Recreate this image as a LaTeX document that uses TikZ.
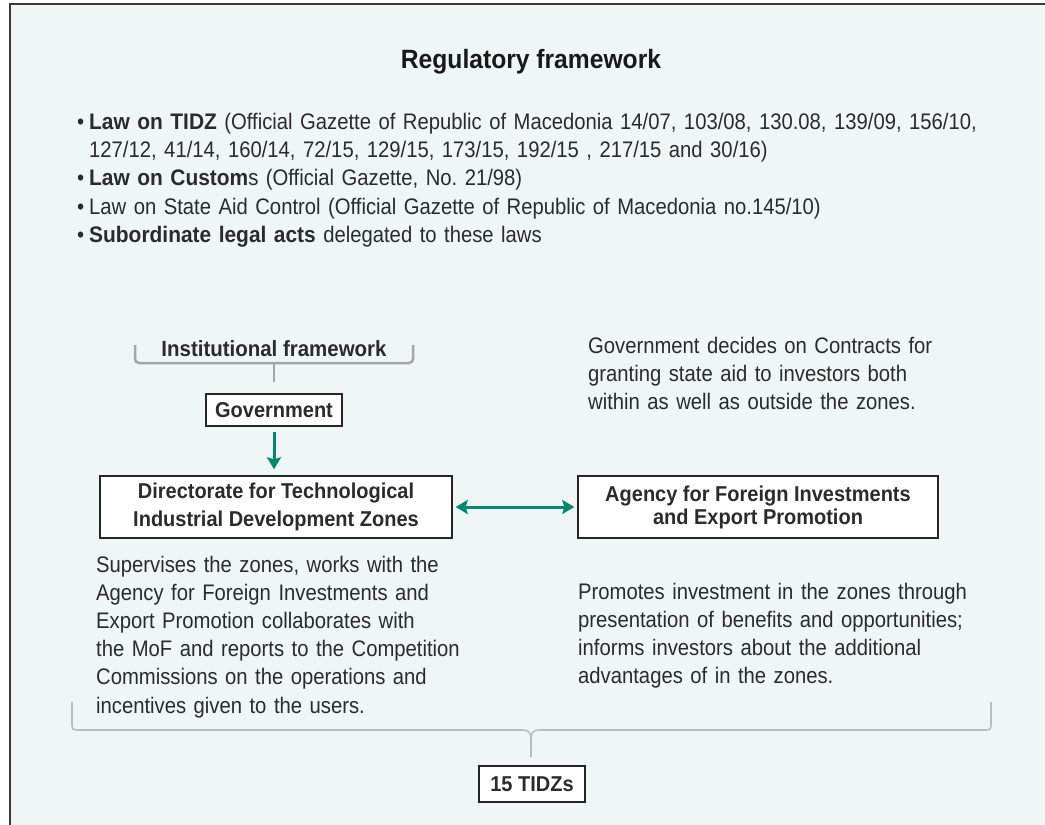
\documentclass[tikz,border=0pt]{standalone}
\usepackage{fontspec}
\setmainfont[FakeStretch=0.9, BoldFeatures={FakeStretch=0.93}]{Liberation Sans}
\usepackage{xcolor}
\usetikzlibrary{arrows.meta, positioning}

\definecolor{panelbg}{HTML}{F0F6F6}
\definecolor{frameline}{HTML}{3A3A3A}
\definecolor{arrowteal}{HTML}{00896F}
\definecolor{bracegray}{HTML}{A6A6A6}
\definecolor{lightbrace}{HTML}{BDBDBD}
\definecolor{textgray}{HTML}{2B2B2B}

\begin{document}
\frenchspacing
\begin{tikzpicture}[x=1pt, y=-1pt,
    orgbox/.style={draw=black!85, line width=1.4pt, fill=white, align=center,
        font=\fontsize{21.5}{28}\selectfont\bfseries, text=textgray, inner sep=0pt},
    bodytext/.style={anchor=base west, align=left, inner sep=0pt, text=textgray,
        text width=#1, font=\fontsize{22.5}{28.2}\selectfont},
    linkarrow/.style={draw=arrowteal, line width=3pt},
    >={Stealth[length=12pt, width=14pt, inset=2pt]}
]
\useasboundingbox (0,0) rectangle (1045,825);

% --- panel ---
\fill[panelbg] (10,4) rectangle (1045,825);
\draw[frameline, line width=2.4pt] (10,825) -- (10,4) -- (1045,4);

% --- Regulatory framework ---
\node[anchor=base, inner sep=0pt, font=\fontsize{26.5}{30}\selectfont\bfseries, text=black!90]
    (regtitle) at (531,68) {Regulatory framework};
\node[bodytext=960pt] (laws) at (77,129.5) {%
    \makebox[12pt][l]{\textbullet}\textbf{Law on TIDZ} (Official Gazette of Republic of Macedonia 14/07, 103/08, 130.08, 139/09, 156/10,\\
    \hspace*{12pt}127/12, 41/14, 160/14, 72/15, 129/15, 173/15, 192/15 , 217/15 and 30/16)\\
    \makebox[12pt][l]{\textbullet}\textbf{Law on Custom}s (Official Gazette, No. 21/98)\\
    \makebox[12pt][l]{\textbullet}Law on State Aid Control (Official Gazette of Republic of Macedonia no.145/10)\\
    \makebox[12pt][l]{\textbullet}\textbf{Subordinate legal acts} delegated to these laws};

% --- Institutional framework ---
\node[anchor=base, inner sep=0pt, font=\fontsize{22}{26}\selectfont\bfseries, text=textgray]
    (insttitle) at (274,356) {Institutional framework};
\coordinate (instmid) at (274,363);
\draw[bracegray, line width=2.5pt, rounded corners=4pt]
    (135,345) -- (135,363) -- (413,363) -- (413,345);
\draw[bracegray, line width=2.5pt] (instmid) -- ++(0,19);

\node[orgbox, minimum width=136pt, minimum height=32pt] (gov) at (274,410) {Government};
\node[bodytext=400pt] (govnote) at (588,353) {%
    Government decides on Contracts for\\
    granting state aid to investors both\\
    within as well as outside the zones.};

% --- Directorate and Agency ---
\node[orgbox, minimum width=352pt, minimum height=62pt] (dtidz) at (276,507)
    {Directorate for Technological\\Industrial Development Zones};
\node[orgbox, minimum width=360pt, minimum height=62pt,
    font=\fontsize{21.5}{23}\selectfont\bfseries] (afiep) at (758,507)
    {Agency for Foreign Investments\\and Export Promotion};

\draw[linkarrow, ->, shorten <=5pt, shorten >=6pt] (gov.south) -- (gov.south |- dtidz.north);
\draw[linkarrow, <->, shorten <=3pt, shorten >=3pt] (dtidz.east) -- (afiep.west);

\node[bodytext=440pt] (dtidznote) at (96,572) {%
    Supervises the zones, works with the\\
    Agency for Foreign Investments and\\
    Export Promotion collaborates with\\
    the MoF and reports to the Competition\\
    Commissions on the operations and\\
    incentives given to the users.};
\node[bodytext=440pt] (afiepnote) at (578,599) {%
    Promotes investment in the zones through\\
    presentation of benefits and opportunities;\\
    informs investors about the additional\\
    advantages of in the zones.};

% --- zones ---
\coordinate (zonemid) at (531,740);
\draw[lightbrace, line width=1.6pt]
    (72,702) -- (72,722) .. controls (72,730) .. (80,730) -- (523,730)
    .. controls (529,730) and (531,733) .. (zonemid)
    .. controls (531,733) and (533,730) .. (539,730) -- (983,730)
    .. controls (991,730) .. (991,722) -- (991,702);
\draw[lightbrace, line width=1.6pt] (zonemid) -- ++(0,17);

\node[orgbox, minimum width=106pt, minimum height=36pt] (tidzs) at (532,784) {15 TIDZs};

\end{tikzpicture}
\end{document}
